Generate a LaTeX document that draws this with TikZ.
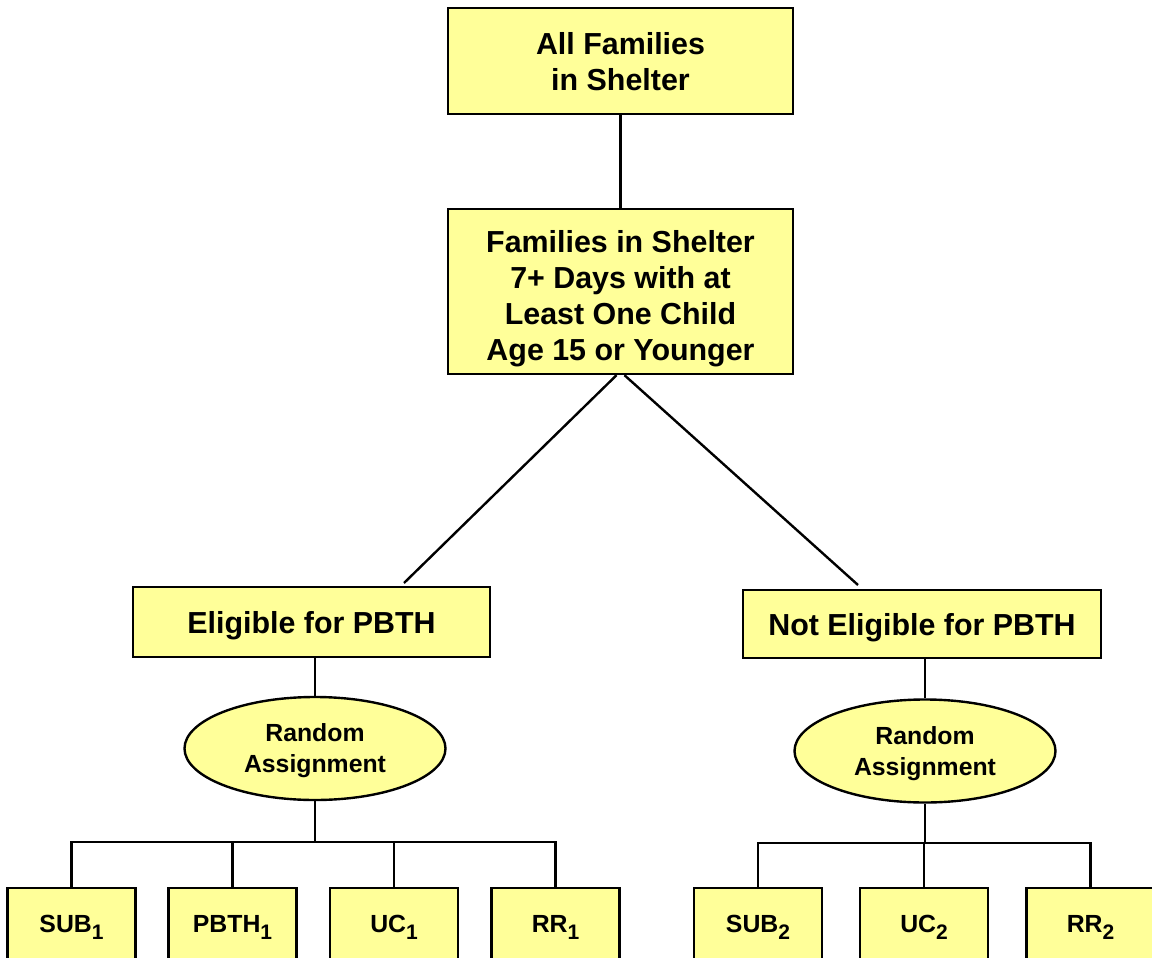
\documentclass[tikz,border=0pt]{standalone}
\usepackage{fontspec}
\setmainfont{Liberation Sans}
\usetikzlibrary{shapes.geometric}
\definecolor{boxyellow}{HTML}{FFFF99}
\newcommand{\grp}[2]{#1\raisebox{-3.5pt}{\fontsize{10.5}{10.5}\selectfont #2}}

\begin{document}
\begin{tikzpicture}[x=0.5pt,y=-0.5pt,line width=1.2pt,
        box/.style={draw,line width=1.2pt,fill=boxyellow,inner sep=0pt,align=center,text depth=0pt,
            font=\bfseries\fontsize{15.2}{18}\selectfont},
        smallbox/.style={box,minimum width=64pt,minimum height=36pt,
            font=\bfseries\fontsize{12.4}{15.5}\selectfont},
        oval/.style={smallbox,ellipse,minimum width=130.5pt,minimum height=51.5pt}]
        \useasboundingbox (0,0) rectangle (1152,958);
        %% Blocks
        \node[box,minimum width=172.5pt,minimum height=53pt] (all) at (620.5,61) {All Families\\in Shelter};
        \node[box,minimum width=172.5pt,minimum height=82.5pt] (shelter) at (620.5,291.5) {\rule{0pt}{15pt}Families in Shelter\\7+ Days with at\\Least One Child\\Age 15 or Younger};
        \node[box,minimum width=178.5pt,minimum height=35pt] (elig) at (311.5,622) {Eligible for PBTH};
        \node[box,minimum width=179pt,minimum height=34pt] (nelig) at (922,624) {Not Eligible for PBTH};
        %% Random assignment
        \node[oval] (ra1) at (315,748.5) {Random\\Assignment};
        \node[oval] (ra2) at (925,751) {Random\\Assignment};
        %% Groups
        \node[smallbox] (sub1) at (71.5,924) {\grp{SUB}{1}};
        \node[smallbox] (pbth1) at (232.5,924) {\grp{PBTH}{1}};
        \node[smallbox] (uc1) at (394,924) {\grp{UC}{1}};
        \node[smallbox] (rr1) at (555.5,924) {\grp{RR}{1}};
        \node[smallbox] (sub2) at (758,924) {\grp{SUB}{2}};
        \node[smallbox] (uc2) at (924,924) {\grp{UC}{2}};
        \node[smallbox] (rr2) at (1090.5,924) {\grp{RR}{2}};
        %% Lines
        \coordinate (eligtop) at (404,583);
        \coordinate (neligtop) at (858,585);
        \coordinate (bus1) at (315,842);
        \coordinate (bus2) at (925,843);
        \draw (all.south) -- (shelter.north);
        \draw ([xshift=-2pt]shelter.south) -- (eligtop);
        \draw ([xshift=2pt]shelter.south) -- (neligtop);
        \draw (ra1.north |- elig.south) -- (ra1.north);
        \draw (ra2.north |- nelig.south) -- (ra2.north);
        \draw (ra1.south) -- (bus1);
        \draw (ra2.south) -- (bus2);
        \foreach \n in {sub1,pbth1,uc1,rr1}
            \draw (\n.north) |- (bus1);
        \foreach \n in {sub2,uc2,rr2}
            \draw (\n.north) |- (bus2);
    \end{tikzpicture}
\end{document}
